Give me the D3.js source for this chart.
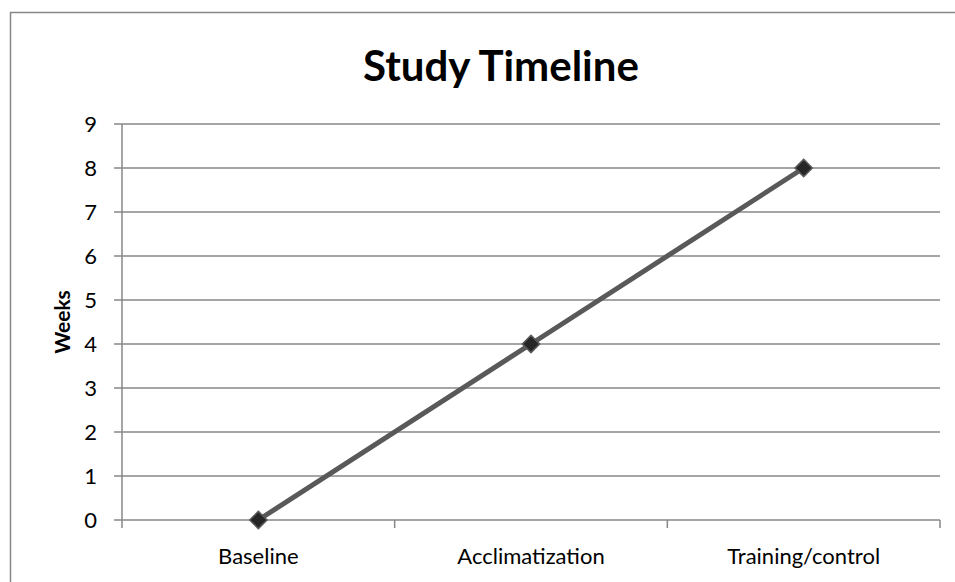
<!DOCTYPE html>
<html>
<head>
<meta charset="utf-8">
<script src="https://cdn.jsdelivr.net/npm/d3@7"></script>
<style>
  body { margin: 0; background: #fff; }
  svg { display: block; font-family: Lato, "Open Sans", sans-serif; }
</style>
</head>
<body>
<svg width="955" height="582"></svg>
<script>
let phases = ["Baseline", "Acclimatization", "Training/control"];
let weeks = [0, 4, 8];
let yTicks = [0, 1, 2, 3, 4, 5, 6, 7, 8, 9];

let svg = d3.select("svg");
let plotLeft = 122, plotRight = 940, plotTop = 124, plotBottom = 520;

// outer chart frame (left + top edges visible)
svg.append("path")
  .attr("d", "M10.5,582V12.5H955")
  .style("fill", "none")
  .style("stroke", "#878787")
  .style("stroke-width", 1.5);

let x = d3.scaleBand().domain(phases).range([plotLeft, plotRight]);
let y = d3.scaleLinear().domain([0, 9]).range([plotBottom, plotTop]);

// gridlines
svg.append("g")
  .selectAll("line")
  .data(yTicks)
  .join("line")
  .attr("x1", plotLeft - 8)
  .attr("x2", plotRight)
  .attr("y1", (d) => y(d))
  .attr("y2", (d) => y(d))
  .style("stroke", "#878787")
  .style("stroke-width", 1.5);

// y axis line
svg.append("line")
  .attr("x1", plotLeft).attr("x2", plotLeft)
  .attr("y1", plotTop).attr("y2", plotBottom + 8)
  .style("stroke", "#878787")
  .style("stroke-width", 1.5);

// x ticks at band edges
let edges = phases.map((d) => x(d)).concat([plotRight]);
svg.append("g")
  .selectAll("line")
  .data(edges.slice(1))
  .join("line")
  .attr("x1", (d) => d).attr("x2", (d) => d)
  .attr("y1", plotBottom).attr("y2", plotBottom + 8)
  .style("stroke", "#878787")
  .style("stroke-width", 1.5);

// y tick labels
svg.append("g")
  .selectAll("text")
  .data(yTicks)
  .join("text")
  .attr("x", 97)
  .attr("y", (d) => y(d))
  .attr("dy", "0.35em")
  .attr("text-anchor", "end")
  .style("font-size", "22px")
  .text((d) => d);

// x labels
svg.append("g")
  .selectAll("text")
  .data(phases)
  .join("text")
  .attr("x", (d) => x(d) + x.bandwidth() / 2)
  .attr("y", 564)
  .attr("text-anchor", "middle")
  .style("font-size", "22px")
  .text((d) => d);

// axis title
svg.append("text")
  .attr("transform", "translate(70," + (plotTop + plotBottom) / 2 + ") rotate(-90)")
  .attr("text-anchor", "middle")
  .style("font-size", "21px")
  .style("font-weight", "bold")
  .text("Weeks");

// chart title
svg.append("text")
  .attr("x", 501)
  .attr("y", 81)
  .attr("text-anchor", "middle")
  .style("font-size", "42px")
  .style("font-weight", "bold")
  .text("Study Timeline");

let pts = phases.map((p, i) => ({ p: p, v: weeks[i] }));
let line = d3.line()
  .x((d) => x(d.p) + x.bandwidth() / 2)
  .y((d) => y(d.v));

svg.append("path")
  .datum(pts)
  .attr("d", line)
  .style("fill", "none")
  .style("stroke", "#595959")
  .style("stroke-width", 5);

svg.append("g")
  .selectAll("path")
  .data(pts)
  .join("path")
  .attr("d", d3.symbol(d3.symbolDiamond2, 190))
  .attr("transform", (d) => `translate(${x(d.p) + x.bandwidth() / 2},${y(d.v)})`)
  .style("fill", "#262626")
  .style("stroke", "#595959")
  .style("stroke-width", 1.5);
</script>
</body>
</html>
